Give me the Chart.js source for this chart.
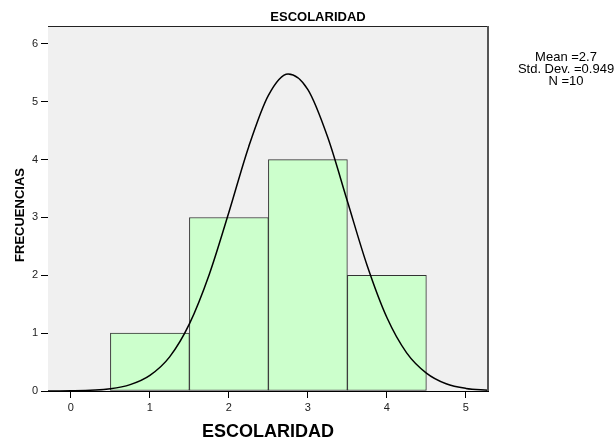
<!DOCTYPE html>
<html>
<head>
<meta charset="utf-8">
<script src="https://cdn.jsdelivr.net/npm/chart.js@4/dist/chart.umd.min.js"></script>
<style>
	html, body { margin: 0; padding: 0; background: #fff; }
	#wrap { width: 615px; height: 443px; }
</style>
</head>
<body>
<div id="wrap"><canvas id="hist"></canvas></div>
<script>
// histogram bins (centre of each bin) and counts
const binCenters = [1, 2, 3, 4]
const counts = [1, 3, 4, 2]

// normal curve
const curveX = [-0.29, 0, 0.5, 0.75, 1, 1.25, 1.5, 1.75, 2, 2.25, 2.5, 2.75, 3, 3.25, 3.5, 3.75, 4, 4.25, 4.5, 4.75, 5, 5.28]
const curveY = [0, 0.003, 0.04, 0.11, 0.27, 0.59, 1.16, 2.01, 3.09, 4.22, 5.11, 5.48, 5.21, 4.39, 3.28, 2.17, 1.27, 0.66, 0.31, 0.125, 0.045, 0.013]

const statsLines = ['Mean =2.7', 'Std. Dev. =0.949', 'N =10']
const FONT = '"Liberation Sans", Arial, sans-serif'

const frame = {
	id: 'frame',
	beforeDatasetsDraw(chart) {
		const { ctx, chartArea: a } = chart
		ctx.save()
		ctx.fillStyle = '#f0f0f0'
		ctx.fillRect(a.left, a.top, a.right - a.left, a.bottom - a.top)
		ctx.restore()
	},
	afterDraw(chart) {
		const { ctx, chartArea: a } = chart
		ctx.save()
		ctx.strokeStyle = '#222'
		ctx.lineWidth = 1
		ctx.beginPath()
		ctx.moveTo(a.left, a.top + 0.5)
		ctx.lineTo(a.right, a.top + 0.5)
		ctx.stroke()
		ctx.strokeStyle = '#555'
		ctx.lineWidth = 2
		ctx.beginPath()
		ctx.moveTo(a.right, a.top)
		ctx.lineTo(a.right, a.bottom)
		ctx.stroke()
		// title
		ctx.fillStyle = '#000'
		ctx.font = 'bold 13px ' + FONT
		ctx.textAlign = 'center'
		ctx.textBaseline = 'middle'
		ctx.fillText('ESCOLARIDAD', 318, 17)
		// y axis title
		ctx.save()
		ctx.translate(20, 215)
		ctx.rotate(-Math.PI / 2)
		ctx.fillText('FRECUENCIAS', 0, 0)
		ctx.restore()
		// stats box
		ctx.font = '13px ' + FONT
		statsLines.forEach((s, i) => ctx.fillText(s, 566, 57 + i * 12))
		ctx.restore()
	}
}

new Chart(document.getElementById('hist'), {
	type: 'bar',
	data: {
		datasets: [
			{
				type: 'line',
				data: curveX.map((x, i) => ({ x: x, y: curveY[i] })),
				borderColor: '#000',
				borderWidth: 1.5,
				pointRadius: 0,
				cubicInterpolationMode: 'monotone',
				fill: false,
				order: 1
			},
			{
				type: 'bar',
				data: binCenters.map((x, i) => ({ x: x, y: counts[i] })),
				backgroundColor: '#ccffcc',
				borderColor: '#333',
				borderWidth: 1,
				borderSkipped: false,
				barPercentage: 1,
				categoryPercentage: 1,
				order: 2
			}
		]
	},
	options: {
		responsive: true,
		maintainAspectRatio: false,
		animation: false,
		layout: { padding: { left: 0, right: 127, top: 26, bottom: 0 } },
		plugins: {
			legend: { display: false },
			tooltip: { enabled: false }
		},
		scales: {
			x: {
				type: 'linear',
				offset: false,
				min: -0.29,
				max: 5.28,
				afterFit(s) { s.height = 52 },
				ticks: {
					stepSize: 1,
					includeBounds: false,
					color: '#222',
					padding: 3,
					font: { family: FONT, size: 11 }
				},
				grid: { offset: false, drawOnChartArea: false, drawTicks: true, tickLength: 7, color: '#000' },
				border: { display: true, color: '#000', width: 1 },
				title: {
					display: true,
					text: 'ESCOLARIDAD',
					color: '#000',
					font: { family: FONT, size: 18, weight: 'bold' },
					padding: { top: 5, bottom: 0 }
				}
			},
			y: {
				min: 0,
				max: 6.31,
				afterFit(s) { s.width = 48 },
				ticks: {
					stepSize: 1,
					includeBounds: false,
					color: '#222',
					padding: 3,
					font: { family: FONT, size: 11 }
				},
				grid: { drawOnChartArea: false, drawTicks: true, tickLength: 7, color: '#000' },
				border: { display: true, color: '#000', width: 1 }
			}
		}
	},
	plugins: [frame]
})
</script>
</body>
</html>
